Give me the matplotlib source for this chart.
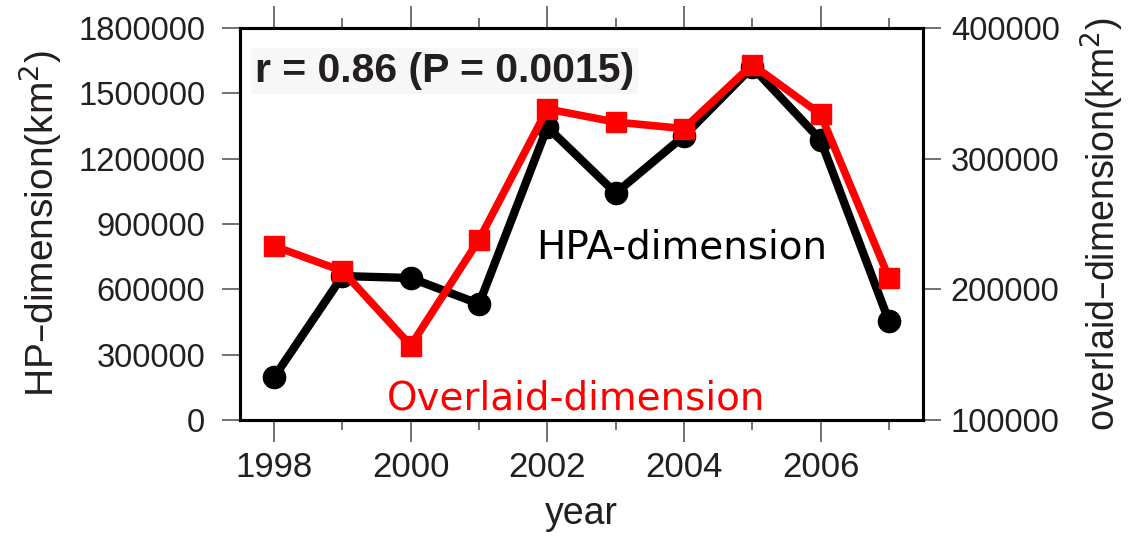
import matplotlib.pyplot as plt
from matplotlib.ticker import MultipleLocator

years = [1998, 1999, 2000, 2001, 2002, 2003, 2004, 2005, 2006, 2007]
hpa_dim = [197000, 661000, 652000, 533000, 1345000, 1042000, 1304000, 1621000, 1286000, 455000]
overlaid_dim = [233000, 214000, 157000, 238000, 338000, 328000, 323000, 372000, 334000, 209000]

left_ticks = [0, 300000, 600000, 900000, 1200000, 1500000, 1800000]
right_ticks = [100000, 200000, 300000, 400000]
x_ticks = [1998, 2000, 2002, 2004, 2006]

txt_col = '#231f20'
tick_col = '#666666'
plt.rcParams['font.family'] = ['Liberation Sans', 'DejaVu Sans']

fig = plt.figure(figsize=(11.43, 5.36), dpi=100)
ax = fig.add_axes([0.21, 0.2164, 0.5975, 0.7314])
ax2 = ax.twinx()

ax.plot(years, hpa_dim, color='black', lw=6, marker='o', ms=16, zorder=3)
ax2.plot(years, overlaid_dim, color='#ff0000', lw=5.5, marker='s', ms=14.5, zorder=3)

ax.set_xlim(1997.5, 2007.5)
ax.set_ylim(0, 1800000)
ax2.set_ylim(100000, 400000)
ax.set_xticks(x_ticks)
ax.xaxis.set_minor_locator(MultipleLocator(1))
ax.set_yticks(left_ticks)
ax.set_yticklabels([str(v) for v in left_ticks])
ax2.set_yticks(right_ticks)
ax2.set_yticklabels([str(v) for v in right_ticks])

for a in (ax, ax2):
    for s in a.spines.values():
        s.set_linewidth(2.2)
ax.tick_params(axis='y', direction='out', length=13, width=1.3, color=tick_col,
               labelsize=23.5, labelcolor=txt_col, pad=12)
ax2.tick_params(axis='y', direction='out', length=13, width=1.3, color=tick_col,
                labelsize=23.5, labelcolor=txt_col, pad=7)
ax.tick_params(axis='x', which='major', direction='out', length=16, width=1.3,
               color=tick_col, labelsize=25, labelcolor=txt_col, pad=6, top=True)
ax.tick_params(axis='x', which='minor', direction='out', length=7.5, width=1.3,
               color=tick_col, top=True)

ax.set_ylabel('HP\u2013dimension(km$^2$)', fontsize=28, color=txt_col, labelpad=10)
ax2.set_ylabel('overlaid\u2013dimension(km$^2$)', fontsize=27, color=txt_col, labelpad=14)
ax.set_xlabel('year', fontsize=27, color=txt_col, labelpad=9)

ax.text(0.022, 0.89, 'r = 0.86 (P = 0.0015)', transform=ax.transAxes, fontsize=29.5,
        fontweight='bold', color=txt_col, va='center', ha='left',
        bbox=dict(facecolor='#f7f7f7', edgecolor='none', pad=3))
ax.text(0.647, 0.441, 'HPA-dimension', transform=ax.transAxes, fontsize=28,
        family='DejaVu Sans', color='black', ha='center', va='center')
ax.text(0.492, 0.056, 'Overlaid-dimension', transform=ax.transAxes, fontsize=28,
        family='DejaVu Sans', color='#ff0000', ha='center', va='center')

fig.savefig('out.png', dpi=100)
